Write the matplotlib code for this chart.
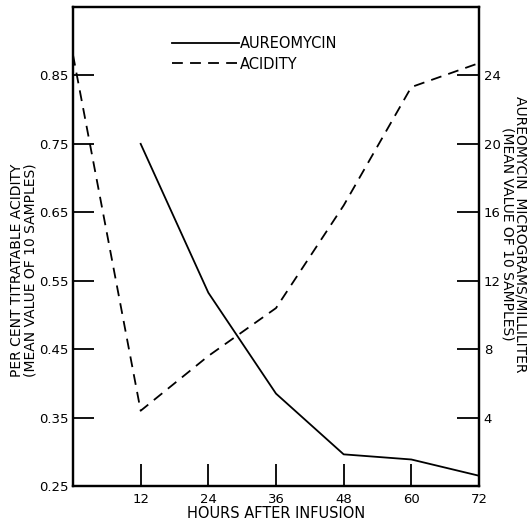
import matplotlib
matplotlib.use("Agg")
import matplotlib.pyplot as plt
from matplotlib.lines import Line2D

plt.rcParams['font.family'] = ['DejaVu Sans']

# data
hours = [12, 24, 36, 48, 60, 72]
aureomycin = [20.0, 11.3, 5.4, 1.85, 1.55, 0.6]          # micrograms / ml (right axis)
acidity_hours = [0, 12, 24, 36, 48, 60, 72]
acidity = [0.88, 0.36, 0.44, 0.51, 0.66, 0.833, 0.868]  # per cent (left axis)

left_ticks = [0.25, 0.35, 0.45, 0.55, 0.65, 0.75, 0.85]
left_labels = ["0.25", "0.35", "0.45", "0.55", "0.65", "0.75", "0.85"]
right_ticks = [4, 8, 12, 16, 20, 24]

fig = plt.figure(figsize=(5.31, 5.25), dpi=100)
ax = fig.add_axes([73 / 531, 1 - 486 / 525, (479 - 73) / 531, (486 - 7) / 525])
ax2 = ax.twinx()

ax.plot(acidity_hours, acidity, color="black", lw=1.3, dashes=(6, 4))
ax2.plot(hours, aureomycin, color="black", lw=1.3)

ax.set_xlim(0, 72)
ax.set_ylim(0.25, 0.95)
ax2.set_ylim(0, 28)

ax.set_xticks(hours)
ax.set_xticklabels([str(h) for h in hours], fontsize=9.5)
ax.set_yticks(left_ticks)
ax.set_yticklabels(left_labels, fontsize=9.5)
ax2.set_yticks(right_ticks)
ax2.set_yticklabels([str(t) for t in right_ticks], fontsize=9.5)

ax.tick_params(axis="x", direction="in", length=16, width=1.3, pad=5)
ax.tick_params(axis="y", direction="in", length=15, width=1.3, pad=3)
ax2.tick_params(axis="y", direction="in", length=16, width=1.3, pad=3.5)

for a in (ax, ax2):
    for s in a.spines.values():
        s.set_linewidth(1.6)

fig.text(24 / 531, 1 - 270 / 525,
         "PER CENT TITRATABLE ACIDITY\n(MEAN VALUE OF 10 SAMPLES)",
         rotation=90, ha="center", va="center", multialignment="center",
         fontsize=10, linespacing=0.95)
fig.text(514 / 531, 1 - 234 / 525,
         "AUREOMYCIN  MICROGRAMS/MILLILITER\n(MEAN VALUE OF 10 SAMPLES)",
         rotation=-90, ha="center", va="center", multialignment="center",
         fontsize=10, linespacing=0.95)
ax.set_xlabel("HOURS AFTER INFUSION", fontsize=10.5, labelpad=0)

handles = [Line2D([], [], color="black", lw=1.3),
           Line2D([], [], color="black", lw=1.3, dashes=(6, 4))]
ax.legend(handles, ["AUREOMYCIN", "ACIDITY"], loc="upper left",
          bbox_to_anchor=((172 - 73) / 406, 1 - (36 - 7) / 479),
          frameon=False, fontsize=10.5, handlelength=4.6, handletextpad=0.05,
          labelspacing=0.38, borderpad=0, borderaxespad=0)

fig.savefig("out.png", dpi=100)
